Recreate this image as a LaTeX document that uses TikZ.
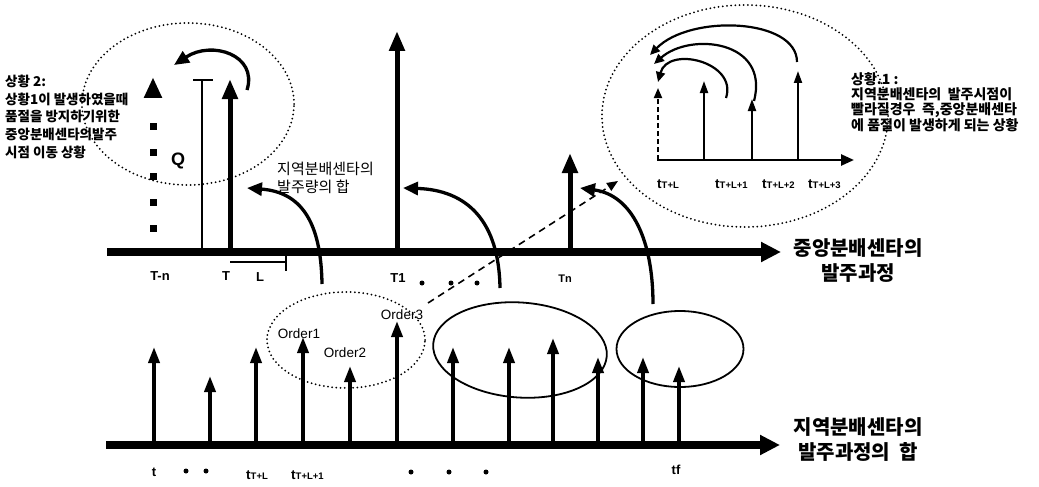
\documentclass[tikz,border=0pt]{standalone}
\usepackage{fontspec}
\setmainfont{Liberation Sans}
\newfontfamily\kr{Noto Sans CJK KR}
\usetikzlibrary{arrows.meta,shapes.geometric}
\newcommand{\tsub}[2]{t\raisebox{-0.5pt}{\fontsize{#2}{#2}\selectfont #1}}
\begin{document}
\begin{tikzpicture}[x=1pt,y=-1pt,
  axisline/.style={line width=7.5pt,-{Triangle[length=20pt,width=19pt]}},
  bigarrow/.style={line width=5pt,-{Triangle[length=20pt,width=15pt]}},
  midarrow/.style={line width=3.6pt,-{Triangle[length=16pt,width=11pt]}},
  thinarrow/.style={line width=2pt,-{Triangle[length=12pt,width=8pt]}},
  curvearrow/.style={line width=3.3pt,-{Triangle[length=15pt,width=13pt]}},
  smallcurve/.style={line width=2.2pt,-{Triangle[length=10pt,width=9pt]}},
  dotring/.style={draw,ellipse,line width=2pt,line cap=round,dash pattern=on 0pt off 4.2pt,inner sep=0pt},
  solidring/.style={draw,ellipse,line width=1.8pt,inner sep=0pt},
  lab/.style={font=\bfseries\fontsize{13}{14}\selectfont,inner sep=0pt},
  sublab/.style={font=\bfseries\fontsize{13.5}{14}\selectfont,inner sep=0pt},
  krsmall/.style={font=\kr\bfseries\fontsize{13.5}{17.6}\selectfont,align=left,inner sep=0pt},
  krbig/.style={font=\kr\bfseries\fontsize{20}{25}\selectfont,align=center,inner sep=0pt},
  ordlab/.style={inner sep=0pt,font=\fontsize{13.5}{14}\selectfont},
  dotmark/.style={circle,fill=black,inner sep=0pt,minimum size=5pt},
  sqmark/.style={rectangle,fill=black,inner sep=0pt,minimum size=7pt}
]
\useasboundingbox (0,0) rectangle (1039,487);

% ---------- top axis ----------
\coordinate (ta0) at (107,252);
\coordinate (ta1) at (781,252);
\draw[axisline] (ta0) -- (ta1);

% L bracket
\coordinate (lb0) at (230,262);
\coordinate (lb1) at (286,262);
\coordinate (lb2) at (286,250);
\coordinate (lb3) at (286,271);
\draw[line width=1.5pt] (lb0) -- (lb1);
\draw[line width=1.5pt] (lb2) -- (lb3);

% arrows on top axis
\coordinate (aT0) at (230,252);   \coordinate (aT1) at (230,79);
\draw[bigarrow] (aT0) -- (aT1);
\coordinate (aQ0) at (202,252);   \coordinate (aQ1) at (202,80);
\draw[line width=1.6pt] (aQ0) -- (aQ1);
\coordinate (qb0) at (193,80);    \coordinate (qb1) at (213,80);
\draw[line width=2.5pt] (qb0) -- (qb1);
\coordinate (a10) at (397,252);   \coordinate (a11) at (397,31);
\draw[bigarrow] (a10) -- (a11);
\coordinate (an0) at (570,252);   \coordinate (an1) at (570,153);
\draw[bigarrow] (an0) -- (an1);

% dotted (square) column with triangle
\foreach \y [count=\i] in {228,202,176,152,126}
  \node[sqmark] (sq\i) at (153,\y) {};
\node[isosceles triangle,isosceles triangle apex angle=50,shape border rotate=90,
      fill=black,inner sep=0pt,minimum height=20pt,minimum width=18pt] (tri) at (153,92) {};

% top left dotted ring and curve
\node[dotring,minimum width=212pt,minimum height=162pt] (ringL) at (188,104) {};
\coordinate (cl0) at (247,90);
\coordinate (cl1) at (174,65);
\draw[curvearrow] (cl0) .. controls (258,55) and (212,40) .. (cl1);

% top labels
\node[lab] (lTn) at (160,276) {T-n};
\node[lab] (lT) at (226,276) {T};
\node[lab] (lL) at (260,277) {L};
\node[lab] (lT1) at (398,278) {T1};
\node[dotmark] (d1) at (422,283) {};
\node[dotmark] (d2) at (451,283) {};
\node[dotmark] (d3) at (477,283) {};
\node[lab,font=\bfseries\fontsize{11}{12}\selectfont] (lTn2) at (565,279) {Tn};
\node[font=\bfseries\fontsize{18}{20}\selectfont,inner sep=0pt] (lQ) at (178,161) {Q};

% text on the left
\node[krsmall,anchor=north west] (sit2) at (5,75)
  {상황 2:\\상황1이 발생하였을때\\품절을 방지하기위한\\중앙분배센타의발주\\시점 이동 상황};

% middle text
\node[krsmall,anchor=north west,font=\kr\fontsize{15}{18}\selectfont] (sum) at (277,162)
  {지역분배센타의\\발주량의 합};

% big right labels
\node[krbig] (central) at (858,261) {중앙분배센타의\\발주과정};
\node[krbig] (regional) at (858,440) {지역분배센타의\\발주과정의~~합};

% curved arrows across the top axis
\coordinate (ca10) at (322,284);  \coordinate (ca11) at (247,188);
\draw[curvearrow] (ca10) .. controls (321,220) and (300,192) .. (ca11);
\coordinate (ca20) at (500,288);  \coordinate (ca21) at (403,188);
\draw[curvearrow] (ca20) .. controls (499,222) and (468,190) .. (ca21);
\coordinate (ca30) at (653,304);  \coordinate (ca31) at (580,188);
\draw[curvearrow] (ca30) .. controls (653,240) and (632,195) .. (ca31);

% dashed line to top right
\coordinate (ds0) at (428,303);
\coordinate (ds1) at (618,181);
\draw[line width=1.6pt,dash pattern=on 7pt off 5pt,-{Triangle[length=11pt,width=9pt]}] (ds0) -- (ds1);

% ---------- top right inset ----------
\node[dotring,minimum width=286pt,minimum height=222pt] (ringR) at (745,116) {};
\coordinate (ia0) at (657,160);
\coordinate (ia1) at (854,160);
\draw[line width=2.6pt,-{Triangle[length=13pt,width=11pt]}] (ia0) -- (ia1);
\coordinate (iv00) at (658,160);  \coordinate (iv01) at (658,88);
\draw[line width=1.8pt,dash pattern=on 5pt off 3pt,-{Triangle[length=10pt,width=8pt]}] (iv00) -- (iv01);
\coordinate (iv10) at (704,160);  \coordinate (iv11) at (704,81);
\draw[thinarrow] (iv10) -- (iv11);
\coordinate (iv20) at (752,160);  \coordinate (iv21) at (752,99);
\draw[thinarrow] (iv20) -- (iv21);
\coordinate (iv30) at (798,160);  \coordinate (iv31) at (798,71);
\draw[thinarrow] (iv30) -- (iv31);

\coordinate (ic10) at (726,98);  \coordinate (ic11) at (658,82);
\draw[smallcurve] (ic10) .. controls (738,62) and (668,45) .. (ic11);
\coordinate (ic20) at (754,101); \coordinate (ic21) at (654,64);
\draw[smallcurve] (ic20) .. controls (770,40) and (690,32) .. (ic21);
\coordinate (ic30) at (797,62);  \coordinate (ic31) at (650,55);
\draw[smallcurve] (ic30) .. controls (797,18) and (690,14) .. (ic31);

\node[sublab,anchor=west] (tt0) at (657,184) {\tsub{T+L}{9.5}};
\node[sublab,anchor=west] (tt1) at (715,184) {\tsub{T+L+1}{9.5}};
\node[sublab,anchor=west] (tt2) at (762,184) {\tsub{T+L+2}{9.5}};
\node[sublab,anchor=west] (tt3) at (808,184) {\tsub{T+L+3}{9.5}};

\node[krsmall,anchor=north west,font=\kr\bfseries\fontsize{14}{15}\selectfont] (sit1) at (851,72)
  {상황.1 :\\지역분배센타의~~발주시점이\\빨라질경우~~즉,중앙분배센타\\에 품절이 발생하게 되는 상황};

% ---------- bottom axis ----------
\coordinate (ba0) at (106,445);
\coordinate (ba1) at (780,445);
\draw[axisline] (ba0) -- (ba1);

\foreach \x/\y [count=\i] in {154/347,210/376,256/347,303/337,350/366,397/321,453/347,509/347,553/338,598/357,643/357,679/366}{
  \coordinate (bb\i) at (\x,445);
  \coordinate (bt\i) at (\x,\y);
  \draw[midarrow] (bb\i) -- (bt\i);
}

% rings at the bottom
\node[dotring,minimum width=158pt,minimum height=96pt] (ringO) at (346,340) {};
\node[solidring,minimum width=174pt,minimum height=95pt,rotate=-4] (ringA) at (520,350) {};
\node[solidring,minimum width=127pt,minimum height=76pt] (ringB) at (680,349) {};

\node[ordlab] (o1) at (299,334) {Order1};
\node[ordlab] (o2) at (345,353) {Order2};
\node[ordlab] (o3) at (402,315) {Order3};

% bottom labels
\node[lab] (bt) at (154,472) {t};
\node[dotmark] (bd1) at (186,471) {};
\node[dotmark] (bd2) at (206,471) {};
\node[sublab,anchor=west] (btl) at (246,475) {\tsub{T+L}{9.5}};
\node[sublab,anchor=west] (btl1) at (291,475) {\tsub{T+L+1}{9.5}};
\node[dotmark] (bd3) at (411,472) {};
\node[dotmark] (bd4) at (449,472) {};
\node[dotmark] (bd5) at (486,472) {};
\node[lab] (btf) at (676,470) {tf};
\end{tikzpicture}
\end{document}
